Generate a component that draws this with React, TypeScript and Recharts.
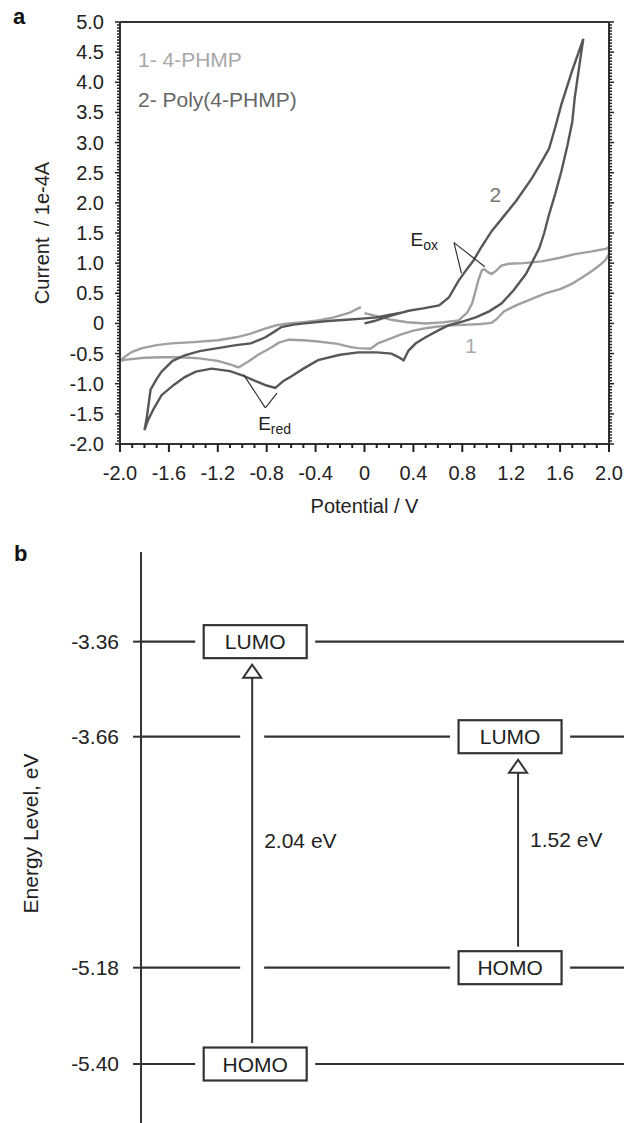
import React from "react";
import {
  LineChart,
  Line,
  XAxis,
  YAxis,
  ReferenceLine,
  ReferenceDot,
  Legend,
  ScatterChart,
  Scatter,
} from "recharts";

const FONT = '"Liberation Sans", Arial, Helvetica, sans-serif';
const INK = "#333";
const TEXT = "#222";

// ---- panel a: cyclic voltammograms (potential in V, current in 1e-4 A) ----
// traced in scan order: 0 -> +2.0 -> -2.0 -> back toward 0
const monomerPotential = [
  0.0, 0.1, 0.22, 0.35, 0.5, 0.65, 0.77, 0.84, 0.88, 0.91, 0.93, 0.96, 0.98, 1.01, 1.04, 1.08, 1.12, 1.18, 1.3, 1.45, 1.6, 1.72, 1.85, 1.98, 2.0,
  2.0, 1.97, 1.92, 1.86, 1.78, 1.7, 1.6, 1.48, 1.36, 1.24, 1.14, 1.08, 1.04, 0.95, 0.85, 0.72, 0.6, 0.5, 0.4, 0.3, 0.2, 0.11, 0.05, -0.05, -0.12,
  -0.22, -0.38, -0.5, -0.62, -0.7, -0.78, -0.87, -0.95, -1.03, -1.1, -1.2, -1.35, -1.5, -1.65, -1.8, -1.95, -2.0,
  -1.96, -1.9, -1.82, -1.7, -1.58, -1.4, -1.2, -1.05, -0.93, -0.82, -0.72, -0.62, -0.5, -0.38, -0.25, -0.12, -0.03,
];
const monomerCurrent = [
  0.17, 0.12, 0.06, 0.02, 0.0, 0.02, 0.05, 0.18, 0.33, 0.55, 0.71, 0.88, 0.9, 0.85, 0.82, 0.88, 0.96, 0.99, 1.0, 1.03, 1.09, 1.15, 1.19, 1.24, 1.27,
  1.15, 1.05, 0.96, 0.87, 0.76, 0.66, 0.57, 0.5, 0.4, 0.3, 0.2, 0.07, 0.01, -0.01, -0.02, -0.03, -0.05, -0.08, -0.12, -0.18, -0.26, -0.33, -0.42, -0.41, -0.39,
  -0.34, -0.3, -0.28, -0.27, -0.32, -0.42, -0.52, -0.63, -0.73, -0.68, -0.62, -0.58, -0.56, -0.56, -0.57, -0.6, -0.62,
  -0.55, -0.47, -0.41, -0.36, -0.33, -0.31, -0.28, -0.23, -0.17, -0.09, -0.03, 0.0, 0.02, 0.05, 0.1, 0.18, 0.27,
];
const polymerPotential = [
  0.0, 0.08, 0.17, 0.27, 0.36, 0.48, 0.61, 0.69, 0.77, 0.83, 0.89, 0.96, 1.04, 1.14, 1.24, 1.37, 1.44, 1.51, 1.56, 1.61, 1.7, 1.79,
  1.77, 1.75, 1.72, 1.7, 1.66, 1.61, 1.56, 1.51, 1.47, 1.43, 1.38, 1.32, 1.22, 1.12, 1.02, 0.91, 0.8, 0.69, 0.6, 0.5,
  0.42, 0.36, 0.32, 0.27, 0.22, 0.1, -0.05, -0.2, -0.38, -0.5, -0.6, -0.66, -0.73, -0.8, -0.9, -1.0, -1.1, -1.25, -1.38, -1.47,
  -1.56, -1.66, -1.72, -1.77, -1.8,
  -1.78, -1.75, -1.7, -1.66, -1.57, -1.47, -1.35, -1.2, -1.05, -0.93, -0.87, -0.81, -0.74, -0.68, -0.58, -0.49, -0.3, -0.15, -0.02, 0.1, 0.2, 0.3,
];
const polymerCurrent = [
  0.0, 0.04, 0.1, 0.16, 0.21, 0.25, 0.3, 0.43, 0.71, 0.88, 1.04, 1.28, 1.53, 1.78, 2.03, 2.41, 2.65, 2.9, 3.25, 3.63, 4.2, 4.72,
  4.45, 4.17, 3.75, 3.35, 2.95, 2.52, 2.15, 1.81, 1.5, 1.25, 1.05, 0.82, 0.55, 0.33, 0.2, 0.1, 0.03, -0.03, -0.12, -0.23,
  -0.33, -0.45, -0.61, -0.55, -0.5, -0.48, -0.48, -0.52, -0.61, -0.75, -0.88, -0.95, -1.07, -1.03, -0.95, -0.86, -0.79, -0.75, -0.8, -0.89,
  -1.02, -1.19, -1.4, -1.6, -1.77,
  -1.55, -1.1, -0.92, -0.8, -0.62, -0.53, -0.46, -0.41, -0.36, -0.33, -0.28, -0.23, -0.14, -0.06, -0.02, 0.0, 0.04, 0.06, 0.08, 0.1, 0.14, 0.18,
];

const xTickValues = [-2, -1.6, -1.2, -0.8, -0.4, 0, 0.4, 0.8, 1.2, 1.6, 2];
const xTickLabels = ["-2.0", "-1.6", "-1.2", "-0.8", "-0.4", "0", "0.4", "0.8", "1.2", "1.6", "2.0"];
const yTickValues = [5, 4.5, 4, 3.5, 3, 2.5, 2, 1.5, 1, 0.5, 0, -0.5, -1, -1.5, -2];
const yTickLabels = ["5.0", "4.5", "4.0", "3.5", "3.0", "2.5", "2.0", "1.5", "1.0", "0.5", "0", "-0.5", "-1.0", "-1.5", "-2.0"];

// ---- panel b: energy levels (eV) ----
const materials = ["4-PHMP", "Poly(4-PHMP)"];
const lumoLevels = [-3.36, -3.66];
const homoLevels = [-5.4, -5.18];

const zip = (xs: number[], ys: number[]) => xs.map((v, k) => ({ v, i: ys[k] }));
const monomerData = zip(monomerPotential, monomerCurrent);
const polymerData = zip(polymerPotential, polymerCurrent);

// minor tick grids (labels only on the major ones above)
const xAllTicks = Array.from({ length: 41 }, (_, k) => (k - 20) / 10);
const yAllTicks = Array.from({ length: 141 }, (_, k) => (k - 40) / 20);
const majorIndex = (list: number[], v: number) => list.findIndex((m) => Math.abs(m - v) < 1e-6);

const allLevels = [...homoLevels, ...lumoLevels].sort((a, b) => a - b);
const boxData = materials.flatMap((m, k) => [
  { x: k + 1, y: lumoLevels[k], label: "LUMO" },
  { x: k + 1, y: homoLevels[k], label: "HOMO" },
]);
const arrowShift = [-3, 8];

// The level axis in the figure is schematic, not to scale: each level sits in
// its own slot. Small d3-like piecewise scale so Recharts can place it.
function levelScale(stops: number[], slots: number[], dom = [0, 1], rng = [0, 1]): any {
  const s: any = (v: number) => {
    const xs = [dom[0], ...stops, dom[1]];
    const ts = [0, ...slots, 1];
    let j = 0;
    while (j < xs.length - 2 && v > xs[j + 1]) j++;
    const t = ts[j] + ((v - xs[j]) / (xs[j + 1] - xs[j])) * (ts[j + 1] - ts[j]);
    return rng[0] + t * (rng[1] - rng[0]);
  };
  s.domain = (d?: number[]) => {
    if (!d) return dom;
    dom = d.slice();
    return s;
  };
  s.range = (r?: number[]) => {
    if (!r) return rng;
    rng = r.slice();
    return s;
  };
  s.copy = () => levelScale(stops, slots, dom, rng);
  s.ticks = () => stops.slice();
  return s;
}
const energyScale = levelScale(allLevels, [0.1033, 0.272, 0.6765, 0.843]);

const TickMark = ({ x, y, w, h }: any) => <rect x={x} y={y} width={w} height={h} fill="#222" />;

const BottomTick = ({ x, y, payload }: any) => {
  const k = majorIndex(xTickValues, payload.value);
  return (
    <g>
      <TickMark x={x - 1} y={y} w={2} h={k >= 0 ? 8 : 4} />
      {k >= 0 && (
        <text x={x} y={y + 36} textAnchor="middle" fontSize={20} fill={TEXT} fontFamily={FONT}>
          {xTickLabels[k]}
        </text>
      )}
    </g>
  );
};

const TopTick = ({ x, y, payload }: any) => {
  const h = majorIndex(xTickValues, payload.value) >= 0 ? 8 : 4;
  return (
    <g>
      <TickMark x={x - 1} y={y - h} w={2} h={h} />
    </g>
  );
};

const LeftTick = ({ x, y, payload }: any) => {
  const k = majorIndex(yTickValues, payload.value);
  const w = k >= 0 ? 5 : 3;
  return (
    <g>
      <TickMark x={x - w} y={y - 0.75} w={w} h={1.5} />
      {k >= 0 && (
        <text x={x - 16} y={y + 7} textAnchor="end" fontSize={20} fill={TEXT} fontFamily={FONT}>
          {yTickLabels[k]}
        </text>
      )}
    </g>
  );
};

const RightTick = ({ x, y, payload }: any) => {
  const w = majorIndex(yTickValues, payload.value) >= 0 ? 5 : 3;
  return (
    <g>
      <TickMark x={x} y={y - 0.75} w={w} h={1.5} />
    </g>
  );
};

const MaterialTick = ({ x, y, payload }: any) => (
  <text x={x} y={y - 10} textAnchor="middle" fontSize={21} fill={TEXT} fontFamily={FONT}>
    {materials[payload.value - 1]}
  </text>
);

const VTitle = ({ viewBox, value, dx, dy = 0, size = 20 }: any) => {
  const x = viewBox.x + dx;
  const y = viewBox.y + viewBox.height / 2 + dy;
  return (
    <text
      x={x}
      y={y}
      transform={`rotate(-90 ${x} ${y})`}
      textAnchor="middle"
      dominantBaseline="central"
      fontSize={size}
      fill={TEXT}
      fontFamily={FONT}
      xmlSpace="preserve"
      style={{ whiteSpace: "pre" }}
    >
      {value}
    </text>
  );
};

const HTitle = ({ viewBox, value, dy }: any) => (
  <text x={viewBox.x + viewBox.width / 2} y={viewBox.y + dy} textAnchor="middle" fontSize={20} fill={TEXT} fontFamily={FONT}>
    {value}
  </text>
);

const SubLabel = ({ cx, cy, main, sub }: any) => (
  <text x={cx} y={cy} fontSize={19} fill={TEXT} fontFamily={FONT}>
    {main}
    <tspan fontSize={14} dy={4}>
      {sub}
    </tspan>
  </text>
);

const CurveNumber = ({ cx, cy, text, color }: any) => (
  <text x={cx} y={cy} textAnchor="middle" dominantBaseline="central" fontSize={21} fill={color} fontFamily={FONT}>
    {text}
  </text>
);

const LevelBox = ({ cx, cy, payload }: any) => (
  <g>
    <rect x={cx - 60} y={cy - 16.5} width={120} height={33} fill="#fff" />
    <rect x={cx - 51.5} y={cy - 16.5} width={103} height={33} fill="#fff" stroke={INK} strokeWidth={2.2} />
    <text x={cx} y={cy} textAnchor="middle" dominantBaseline="central" fontSize={21} fill={TEXT} fontFamily={FONT}>
      {payload.label}
    </text>
  </g>
);

const GapArrow = ({ x1, y1, y2, shift, gap }: any) => {
  const x = x1 + shift;
  const lo = Math.max(y1, y2);
  const hi = Math.min(y1, y2);
  const start = lo - 21;
  const tip = hi + 23;
  const base = tip + 13;
  return (
    <g>
      <line x1={x} x2={x} y1={start} y2={tip} stroke="#fff" strokeWidth={24} />
      <line x1={x} x2={x} y1={start} y2={base} stroke={INK} strokeWidth={2} />
      <path d={`M${x},${tip} L${x - 9},${base} L${x + 9},${base} Z`} fill="#fff" stroke={INK} strokeWidth={2} />
      <text x={x + 12} y={(lo + hi) / 2 - 5} fontSize={21} fill={TEXT} fontFamily={FONT}>
        {gap}
      </text>
    </g>
  );
};

const legendText = ["#a8a8a8", "#666"];
const AX = { stroke: INK, strokeWidth: 2 };

export default function App() {
  return (
    <div style={{ position: "absolute", left: 0, top: 0, width: 624, height: 1123, background: "#fff", fontFamily: FONT }}>
      <div style={{ position: "absolute", left: 0, top: 0 }}>
        <LineChart width={624} height={530} margin={{ top: 0, right: 0, bottom: 0, left: 0 }}>
          {/* frame axes (top / right) carry no series, so they need allowDataOverflow to keep their domain */}
          <XAxis xAxisId="t" orientation="top" type="number" domain={[-2, 2]} allowDataOverflow ticks={xAllTicks} interval={0} height={22}
            tickSize={0} tickMargin={0} tickLine={false} tick={TopTick} axisLine={AX} />
          <XAxis xAxisId="b" dataKey="v" type="number" domain={[-2, 2]} allowDataOverflow ticks={xAllTicks} interval={0} height={86}
            tickSize={0} tickMargin={0} tickLine={false} tick={BottomTick} axisLine={AX}
            label={<HTitle value="Potential / V" dy={69} />} />
          <YAxis yAxisId="l" type="number" domain={[-2, 5]} allowDataOverflow ticks={yAllTicks} interval={0} width={120}
            tickSize={0} tickMargin={0} tickLine={false} tick={LeftTick} axisLine={AX}
            label={<VTitle value="Current  / 1e-4A" dx={42} />} />
          <YAxis yAxisId="r" orientation="right" type="number" domain={[-2, 5]} allowDataOverflow ticks={yAllTicks} interval={0} width={15}
            tickSize={0} tickMargin={0} tickLine={false} tick={RightTick} axisLine={AX} />
          <Legend
            layout="vertical"
            align="center"
            verticalAlign="middle"
            wrapperStyle={{ left: 138, top: 40, width: 300 }}
            content={({ payload }: any) => (
              <div style={{ fontFamily: FONT, fontSize: 21, lineHeight: "40px" }}>
                {(payload ?? []).map((e: any, k: number) => (
                  <div key={k} style={{ color: legendText[k] }}>{`${k + 1}- ${e.value}`}</div>
                ))}
              </div>
            )}
          />
          <Line xAxisId="b" yAxisId="l" data={monomerData} dataKey="i" name="4-PHMP" stroke="#a0a0a0"
            strokeWidth={2.4} dot={false} activeDot={false} isAnimationActive={false} />
          <Line xAxisId="b" yAxisId="l" data={polymerData} dataKey="i" name="Poly(4-PHMP)" stroke="#575757"
            strokeWidth={2.4} dot={false} activeDot={false} isAnimationActive={false} />
          {/* E_ox / E_red pointers */}
          <ReferenceLine xAxisId="b" yAxisId="l" segment={[{ x: 0.732, y: 1.34 }, { x: 0.793, y: 0.83 }]} stroke={INK} strokeWidth={1.2} />
          <ReferenceLine xAxisId="b" yAxisId="l" segment={[{ x: 0.732, y: 1.34 }, { x: 0.984, y: 0.94 }]} stroke={INK} strokeWidth={1.2} />
          <ReferenceLine xAxisId="b" yAxisId="l" segment={[{ x: -0.811, y: -1.4 }, { x: -0.989, y: -0.85 }]} stroke={INK} strokeWidth={1.2} />
          <ReferenceLine xAxisId="b" yAxisId="l" segment={[{ x: -0.811, y: -1.4 }, { x: -0.716, y: -1.156 }]} stroke={INK} strokeWidth={1.2} />
          <ReferenceDot xAxisId="b" yAxisId="l" x={0.377} y={1.28} ifOverflow="visible"
            shape={(p: any) => <SubLabel cx={p.cx} cy={p.cy} main="E" sub="ox" />} />
          <ReferenceDot xAxisId="b" yAxisId="l" x={-0.87} y={-1.76} ifOverflow="visible"
            shape={(p: any) => <SubLabel cx={p.cx} cy={p.cy} main="E" sub="red" />} />
          <ReferenceDot xAxisId="b" yAxisId="l" x={0.87} y={-0.36} ifOverflow="visible"
            shape={(p: any) => <CurveNumber cx={p.cx} cy={p.cy} text="1" color="#aaa" />} />
          <ReferenceDot xAxisId="b" yAxisId="l" x={1.07} y={2.14} ifOverflow="visible"
            shape={(p: any) => <CurveNumber cx={p.cx} cy={p.cy} text="2" color="#777" />} />
        </LineChart>
      </div>

      <div style={{ position: "absolute", left: 0, top: 540 }}>
        <ScatterChart width={624} height={583} margin={{ top: 12, right: 0, bottom: 0, left: 0 }}>
          <XAxis type="number" dataKey="x" domain={[0.552, 2.447]} ticks={[1, 2]} interval={0} height={0}
            axisLine={false} tickLine={false} tickSize={0} tickMargin={0} tick={MaterialTick} />
          <YAxis type="number" dataKey="y" width={141} domain={[-5.55, -3.08]} scale={energyScale} ticks={allLevels}
            interval={0} tickSize={8} tickMargin={14} tickFormatter={(v: number) => v.toFixed(2)}
            tick={{ fontSize: 21, fill: TEXT, fontFamily: FONT }} axisLine={AX} tickLine={AX}
            label={<VTitle value="Energy Level, eV" dx={30} dy={-4} size={21} />} />
          {allLevels.map((l) => (
            <ReferenceLine key={l} y={l} stroke={INK} strokeWidth={2.2} />
          ))}
          {materials.map((m, k) => (
            <ReferenceLine
              key={m}
              segment={[{ x: k + 1, y: homoLevels[k] }, { x: k + 1, y: lumoLevels[k] }]}
              shape={(p: any) => (
                <GapArrow {...p} shift={arrowShift[k]} gap={`${(lumoLevels[k] - homoLevels[k]).toFixed(2)} eV`} />
              )}
            />
          ))}
          <Scatter data={boxData} dataKey="y" isAnimationActive={false} shape={LevelBox} />
        </ScatterChart>
      </div>

      <div style={{ position: "absolute", left: 13, top: 6, fontSize: 22, lineHeight: "22px", fontWeight: "bold", color: "#111" }}>a</div>
      <div style={{ position: "absolute", left: 14, top: 543, fontSize: 22, lineHeight: "22px", fontWeight: "bold", color: "#111" }}>b</div>
    </div>
  );
}
